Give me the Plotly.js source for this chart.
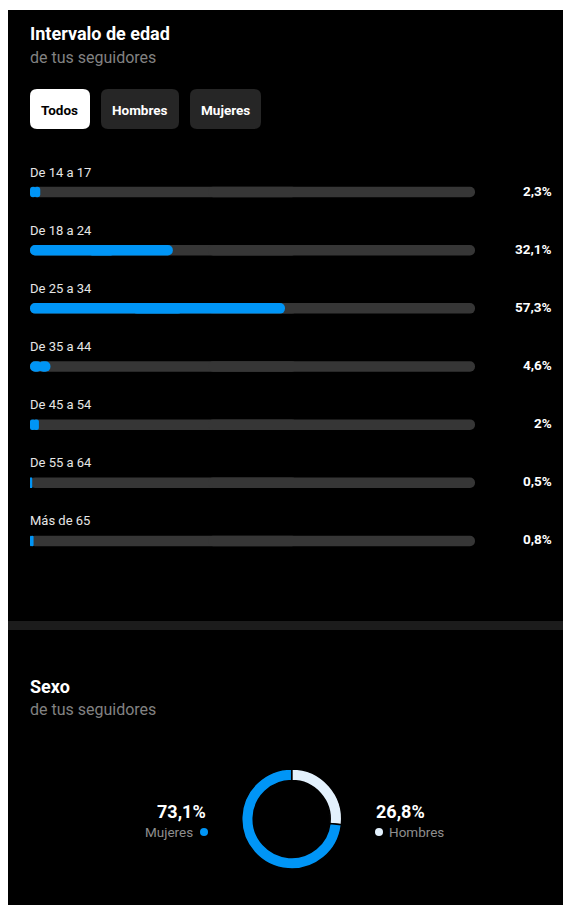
<!DOCTYPE html>
<html>
<head>
<meta charset="utf-8">
<script src="https://cdn.plot.ly/plotly-3.0.1.min.js"></script>
<style>
html,body{margin:0;padding:0;background:#fff;}
#chart{width:563px;height:905px;}
</style>
</head>
<body>
<div id="chart"></div>
<script>
// ---- data ----
const ageLabels = ['De 14 a 17','De 18 a 24','De 25 a 34','De 35 a 44','De 45 a 54','De 55 a 64','Más de 65'];
const agePct = [2.3, 32.1, 57.3, 4.6, 2, 0.5, 0.8];
const ageMax = ageLabels.map(() => 100);
const sexLabels = ['Hombres','Mujeres'];
const sexPct = [26.8, 73.1];
const filterButtons = ['Todos','Hombres','Mujeres'];

// ---- helpers ----
const W = 563, H = 905;
const fx = p => p / W;
const fy = p => 1 - p / H;
const fmt = v => String(v).replace('.', ',') + '%';
const FONT = 'Roboto, "Noto Sans", sans-serif';
const BLUE = '#0095f6';
const LIGHT = '#e3f1fd';
const TRACK = '#363636';
const BW = 0.18;

function rrect(x0, y0, x1, y1, r) {
  const P = (x, y) => fx(x).toFixed(5) + ',' + fy(y).toFixed(5);
  return 'M ' + P(x0 + r, y0) + ' L ' + P(x1 - r, y0) + ' Q ' + P(x1, y0) + ' ' + P(x1, y0 + r) +
    ' L ' + P(x1, y1 - r) + ' Q ' + P(x1, y1) + ' ' + P(x1 - r, y1) +
    ' L ' + P(x0 + r, y1) + ' Q ' + P(x0, y1) + ' ' + P(x0, y1 - r) +
    ' L ' + P(x0, y0 + r) + ' Q ' + P(x0, y0) + ' ' + P(x0 + r, y0) + ' Z';
}

// pill-shaped bar = two overlapping halves, each rounded at its outer end
function pill(vals, color) {
  return [
    { type: 'bar', orientation: 'h', y: ageLabels, base: vals.map(v => v * 0.6), x: vals.map(v => -v * 0.6),
      marker: { color: color, cornerradius: '50%' }, width: BW, hoverinfo: 'skip', showlegend: false },
    { type: 'bar', orientation: 'h', y: ageLabels, base: vals.map(v => v * 0.4), x: vals.map(v => v * 0.6),
      marker: { color: color, cornerradius: '50%' }, width: BW, hoverinfo: 'skip', showlegend: false }
  ];
}

const traces = [
  ...pill(ageMax, TRACK),
  ...pill(agePct, BLUE),
  { type: 'pie', labels: sexLabels, values: sexPct, sort: false, direction: 'clockwise', rotation: 0,
    hole: 0.77, marker: { colors: [LIGHT, BLUE], line: { color: '#000', width: 1.5 } },
    textinfo: 'none', hoverinfo: 'skip', showlegend: false,
    domain: { x: [fx(241.7), fx(341.7)], y: [fy(869), fy(769)] } }
];

const shapes = [
  { type: 'rect', xref: 'paper', yref: 'paper', x0: fx(8), x1: 1, y0: 0, y1: fy(10),
    fillcolor: '#000', line: { width: 0 }, layer: 'below' },
  { type: 'rect', xref: 'paper', yref: 'paper', x0: fx(8), x1: 1, y0: fy(630), y1: fy(621),
    fillcolor: '#1c1c1c', line: { width: 0 }, layer: 'below' }
];
const btnBoxes = [[30, 90], [101, 179], [190, 261]];
filterButtons.forEach((b, i) => {
  shapes.push({ type: 'path', xref: 'paper', yref: 'paper',
    path: rrect(btnBoxes[i][0], 89, btnBoxes[i][1], 129, 7),
    fillcolor: i === 0 ? '#ffffff' : '#262626', line: { width: 0 }, layer: 'below' });
});
// legend dots
const dots = [[379, 832, LIGHT], [204, 832, BLUE]];
dots.forEach(d => {
  shapes.push({ type: 'circle', xref: 'paper', yref: 'paper',
    x0: fx(d[0] - 4), x1: fx(d[0] + 4), y0: fy(d[1] + 4), y1: fy(d[1] - 4),
    fillcolor: d[2], line: { width: 0 } });
});

const ann = [];
function txt(text, x, y, size, color, bold, xanchor) {
  ann.push({ xref: 'paper', yref: 'paper', x: fx(x), y: fy(y), text: bold ? '<b>' + text + '</b>' : text,
    showarrow: false, xanchor: xanchor || 'left', yanchor: 'middle',
    font: { family: FONT, size: size, color: color } });
}
txt('Intervalo de edad', 28, 34, 18, '#ffffff', true);
txt('de tus seguidores', 28, 57.5, 16, '#828282', false);
filterButtons.forEach((b, i) => {
  txt(b, (btnBoxes[i][0] + btnBoxes[i][1]) / 2, 110, 13.5, i === 0 ? '#000000' : '#ffffff', true, 'center');
});
txt('Sexo', 28, 686, 18, '#ffffff', true);
txt('de tus seguidores', 28, 709.5, 16, '#828282', false);
txt(fmt(sexPct[1]), 208, 811, 18, '#ffffff', true, 'right');
txt(sexLabels[1], 195, 832, 13.5, '#8e8e8e', false, 'right');
txt(fmt(sexPct[0]), 374, 811, 18, '#ffffff', true, 'left');
txt(sexLabels[0], 387, 832, 13.5, '#8e8e8e', false, 'left');

ageLabels.forEach((lab, i) => {
  ann.push({ xref: 'x', yref: 'y', x: 0, y: lab, yshift: 20, xshift: -2, text: lab, showarrow: false,
    xanchor: 'left', yanchor: 'middle', font: { family: FONT, size: 13, color: '#e6e6e6' } });
  ann.push({ xref: 'paper', yref: 'y', x: fx(554), y: lab, yshift: 1.5, text: '<b>' + fmt(agePct[i]) + '</b>', showarrow: false,
    xanchor: 'right', yanchor: 'middle', font: { family: FONT, size: 13.5, color: '#ffffff' } });
});

const layout = {
  width: W, height: H,
  margin: { l: 0, r: 0, t: 0, b: 0, pad: 0 },
  paper_bgcolor: '#ffffff', plot_bgcolor: 'rgba(0,0,0,0)',
  barmode: 'overlay',
  xaxis: { domain: [fx(30), fx(475)], range: [0, 100], visible: false, fixedrange: true },
  yaxis: { domain: [fy(570), fy(163)], type: 'category', categoryorder: 'array', categoryarray: ageLabels,
    range: [6.5, -0.5], visible: false, fixedrange: true },
  shapes: shapes,
  annotations: ann,
  font: { family: FONT },
  showlegend: false
};

Plotly.newPlot('chart', traces, layout, { displayModeBar: false, staticPlot: true });
</script>
</body>
</html>
